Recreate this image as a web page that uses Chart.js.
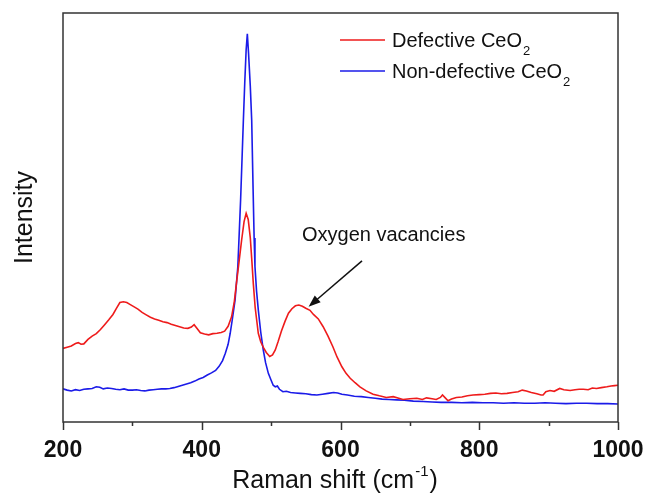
<!DOCTYPE html>
<html>
<head>
<meta charset="utf-8">
<script src="https://cdn.jsdelivr.net/npm/chart.js@4.4.1/dist/chart.umd.min.js"></script>
<style>
  html, body { margin: 0; padding: 0; background: #fff; }
  #wrap { width: 647px; height: 498px; }
</style>
</head>
<body>
<div id="wrap"><canvas id="ramanChart" width="647" height="498"></canvas></div>
<script>
// Raman shift (cm-1) and intensity (arb. units)
const defectiveX = [200, 206, 212, 218, 222, 226, 230, 236, 242, 248, 254, 260, 266, 272, 277, 282, 287, 292, 297, 302,
  308, 314, 320, 326, 332, 338, 344, 350, 356, 362, 368, 374, 380, 385, 389, 393, 398, 404, 410, 416,
  422, 428, 433, 438, 443, 447, 450, 454, 457.5, 461, 464, 467, 470, 472, 474.3, 477, 481.5, 485, 489, 493,
  498, 502, 506, 510, 515, 520, 525, 530, 535, 540, 545, 550, 556, 561, 568, 575, 582, 589, 595, 602,
  608, 614, 621, 628, 637, 647, 656, 666, 676, 684, 690, 700, 710, 718, 724, 732, 738, 744, 747, 751,
  755, 760, 767, 775, 783, 791, 800, 808, 816, 824, 832, 840, 848, 856, 862, 868, 875, 883, 889, 892,
  896, 902, 908, 916, 922, 931, 938, 944, 950, 957, 963, 969, 976, 984, 990, 995, 1000];
const defectiveY = [18.0, 18.3, 18.6, 19.2, 19.4, 19.0, 19.1, 20.2, 21.0, 21.6, 22.6, 23.8, 25.0, 26.3, 27.8, 29.2, 29.4, 29.2, 28.7, 28.2,
  27.6, 26.8, 26.2, 25.6, 25.2, 24.9, 24.5, 24.3, 23.9, 23.6, 23.3, 23.0, 22.9, 23.2, 23.8, 22.9, 21.8, 21.5, 21.3, 21.6,
  21.7, 21.9, 22.2, 23.4, 25.7, 29.5, 33.9, 39.5, 44.5, 49.0, 51.0, 49.5, 45.0, 40.0, 33.9, 28.0, 21.7, 19.6, 18.2, 17.0,
  16.0, 16.4, 17.6, 19.6, 22.3, 24.6, 26.6, 27.7, 28.4, 28.6, 28.3, 27.8, 27.3, 26.3, 25.2, 23.3, 21.0, 18.4, 15.9, 13.5,
  11.9, 10.7, 9.6, 8.6, 7.6, 6.8, 6.4, 6.0, 6.2, 5.8, 5.5, 5.7, 5.8, 5.5, 5.9, 5.7, 5.5, 6.0, 6.6, 5.9,
  5.2, 5.6, 6.0, 6.1, 6.4, 6.6, 6.7, 6.8, 7.0, 7.1, 6.9, 7.0, 7.2, 7.4, 7.8, 7.6, 7.2, 6.9, 6.6, 6.6,
  7.4, 7.7, 7.5, 8.2, 7.9, 7.7, 7.9, 8.0, 8.0, 7.9, 8.3, 8.2, 8.4, 8.6, 8.8, 8.9, 9.0];

const nonDefectiveX = [200, 206, 212, 218, 224, 230, 236, 242, 248, 253, 258, 264, 270, 276, 282, 288, 294, 300, 306, 312,
  318, 324, 330, 336, 342, 348, 354, 360, 366, 372, 378, 384, 390, 396, 402, 408, 414, 420, 425, 430,
  434, 438, 441, 444, 448, 452, 454, 456, 458, 460, 462, 464, 465.7, 467.5, 470, 472, 474, 475.5, 476.7, 479,
  481.5, 485, 488.7, 492, 496, 500, 503, 506, 509, 512, 517, 522, 528, 535, 542, 550, 558, 566, 574, 582,
  590, 596, 602, 610, 620, 630, 640, 650, 660, 670, 681, 692, 705, 719, 732, 745, 760, 775, 790, 805,
  820, 835, 850, 865, 880, 895, 910, 925, 940, 955, 970, 985, 1000];
const nonDefectiveY = [8.1, 7.8, 7.6, 7.9, 7.7, 8.0, 8.1, 8.2, 8.6, 8.5, 8.1, 8.3, 8.2, 8.0, 7.9, 8.1, 7.8, 7.8, 7.9, 7.7,
  7.6, 7.8, 7.9, 8.0, 8.1, 8.1, 8.2, 8.4, 8.7, 9.0, 9.3, 9.6, 10.0, 10.5, 10.9, 11.5, 12.0, 12.6, 13.6, 15.0,
  16.8, 19.0, 21.7, 25.0, 29.8, 38.0, 46.1, 54.3, 64.0, 73.8, 83.0, 91.0, 94.9, 90.0, 82.0, 73.8, 57.0, 45.0, 38.0, 32.0,
  27.4, 22.0, 17.6, 14.5, 11.9, 10.2, 9.0, 8.6, 8.8, 8.0, 7.4, 7.5, 7.2, 7.1, 7.0, 6.9, 6.7, 6.6, 6.8, 7.0,
  7.2, 7.1, 6.8, 6.6, 6.3, 6.2, 6.0, 5.8, 5.6, 5.5, 5.4, 5.3, 5.1, 5.0, 4.9, 4.8, 4.8, 4.7, 4.8, 4.7,
  4.7, 4.6, 4.7, 4.6, 4.6, 4.7, 4.6, 4.5, 4.6, 4.6, 4.5, 4.5, 4.4];

const xTicks = [200, 300, 400, 500, 600, 700, 800, 900, 1000];

const FONT = '"Liberation Sans", Arial, Helvetica, sans-serif';

function toPoints(xs, ys) {
  return xs.map((x, i) => ({x: x, y: ys[i]}));
}

// frame, tick marks, titles, legend and the arrow note
const decorations = {
  id: 'decorations',
  afterDraw(chart) {
    const ctx = chart.ctx;
    const area = chart.chartArea;
    const xs = chart.scales.x;
    const ys = chart.scales.y;
    ctx.save();

    // box
    ctx.strokeStyle = '#333';
    ctx.lineWidth = 1.5;
    ctx.strokeRect(area.left, area.top, area.right - area.left, area.bottom - area.top);

    // outward ticks on the bottom axis
    xTicks.forEach(v => {
      const px = Math.round(xs.getPixelForValue(v)) + 0.5;
      const len = v % 200 === 0 ? 8 : 4;
      ctx.beginPath();
      ctx.moveTo(px, area.bottom);
      ctx.lineTo(px, area.bottom + len);
      ctx.stroke();
    });

    ctx.fillStyle = '#111';
    ctx.textBaseline = 'alphabetic';

    // x title with superscript
    const mainFont = '25px ' + FONT;
    const supFont = '15px ' + FONT;
    ctx.font = mainFont;
    const w1 = ctx.measureText('Raman shift (cm').width;
    const w3 = ctx.measureText(')').width;
    ctx.font = supFont;
    const w2 = ctx.measureText('-1').width;
    let tx = 334 - (w1 + w2 + w3) / 2;
    const ty = 488;
    ctx.font = mainFont;
    ctx.textAlign = 'left';
    ctx.fillText('Raman shift (cm', tx, ty);
    ctx.font = supFont;
    ctx.fillText('-1', tx + w1 + 1, ty - 12);
    ctx.font = mainFont;
    ctx.fillText(')', tx + w1 + w2 + 2, ty);

    // y title
    ctx.save();
    ctx.translate(32, (area.top + area.bottom) / 2);
    ctx.rotate(-Math.PI / 2);
    ctx.textAlign = 'center';
    ctx.font = mainFont;
    ctx.fillText('Intensity', 0, 0);
    ctx.restore();

    // legend
    const legendRows = [
      {label: 'Defective CeO', color: chart.data.datasets[0].borderColor, y: 47},
      {label: 'Non-defective CeO', color: chart.data.datasets[1].borderColor, y: 78}
    ];
    legendRows.forEach(row => {
      ctx.strokeStyle = row.color;
      ctx.lineWidth = 1.5;
      ctx.beginPath();
      ctx.moveTo(340, row.y - 7);
      ctx.lineTo(385, row.y - 7);
      ctx.stroke();
      ctx.font = '20px ' + FONT;
      ctx.textAlign = 'left';
      ctx.fillText(row.label, 392, row.y);
      const lw = ctx.measureText(row.label).width;
      ctx.font = '13px ' + FONT;
      ctx.fillText('2', 392 + lw + 1, row.y + 8);
    });

    // annotation
    ctx.font = '20px ' + FONT;
    ctx.textAlign = 'left';
    ctx.fillText('Oxygen vacancies', xs.getPixelForValue(544.5), ys.getPixelForValue(44.2));
    const ax0 = xs.getPixelForValue(631), ay0 = ys.getPixelForValue(39.4);
    const ax1 = xs.getPixelForValue(554), ay1 = ys.getPixelForValue(28.2);
    const ang = Math.atan2(ay1 - ay0, ax1 - ax0);
    ctx.strokeStyle = '#111';
    ctx.lineWidth = 1.5;
    ctx.beginPath();
    ctx.moveTo(ax0, ay0);
    ctx.lineTo(ax1 - 8 * Math.cos(ang), ay1 - 8 * Math.sin(ang));
    ctx.stroke();
    ctx.beginPath();
    ctx.moveTo(ax1, ay1);
    ctx.lineTo(ax1 - 12 * Math.cos(ang) + 4.5 * Math.sin(ang), ay1 - 12 * Math.sin(ang) - 4.5 * Math.cos(ang));
    ctx.lineTo(ax1 - 12 * Math.cos(ang) - 4.5 * Math.sin(ang), ay1 - 12 * Math.sin(ang) + 4.5 * Math.cos(ang));
    ctx.closePath();
    ctx.fill();

    ctx.restore();
  }
};

const chart = new Chart(document.getElementById('ramanChart'), {
  type: 'line',
  data: {
    datasets: [
      {
        label: 'Defective CeO2',
        data: toPoints(defectiveX, defectiveY),
        borderColor: '#ee1b1b',
        borderWidth: 1.6,
        pointRadius: 0,
        tension: 0
      },
      {
        label: 'Non-defective CeO2',
        data: toPoints(nonDefectiveX, nonDefectiveY),
        borderColor: '#1b1be8',
        borderWidth: 1.6,
        pointRadius: 0,
        tension: 0
      }
    ]
  },
  options: {
    responsive: false,
    animation: false,
    events: [],
    layout: {
      padding: {left: 63, right: 29, top: 13, bottom: 38}
    },
    plugins: {
      legend: {display: false},
      tooltip: {enabled: false}
    },
    scales: {
      x: {
        type: 'linear',
        min: 200,
        max: 1000,
        border: {display: false},
        grid: {display: false, drawTicks: false},
        afterBuildTicks: axis => {
          axis.ticks = xTicks.map(v => ({value: v}));
        },
        afterFit: axis => {
          axis.paddingLeft = 0;
          axis.paddingRight = 0;
          axis.height = 38;
        },
        ticks: {
          autoSkip: false,
          maxRotation: 0,
          padding: 15,
          color: '#111',
          font: {family: FONT, size: 23, weight: 'bold'},
          callback: v => (v % 200 === 0 ? v : '')
        }
      },
      y: {
        display: false,
        min: 0,
        max: 100
      }
    }
  },
  plugins: [decorations]
});
</script>
</body>
</html>
